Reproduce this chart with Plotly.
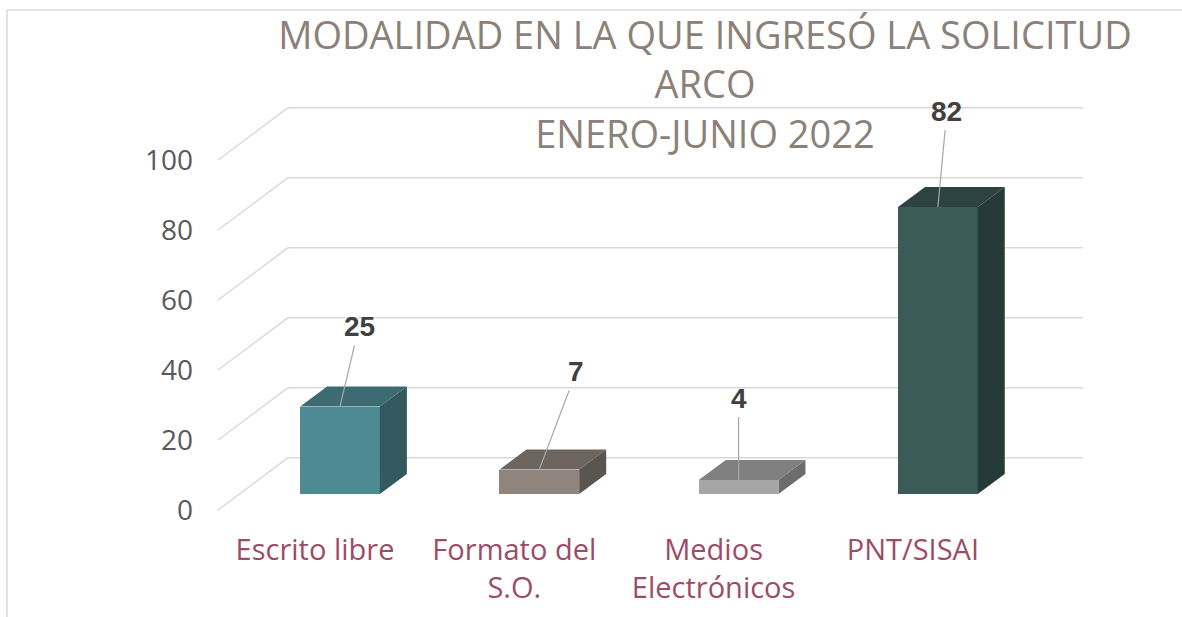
import plotly.graph_objects as go

# ---- data ----
categories = ["Escrito libre", "Formato del<br>S.O.", "Medios<br>Electrónicos", "PNT/SISAI"]
values = [25, 7, 4, 82]
y_ticks = [0, 20, 40, 60, 80, 100]
y_tick_labels = ["0", "20", "40", "60", "80", "100"]
title_lines = ["MODALIDAD EN LA QUE INGRESÓ LA SOLICITUD", "ARCO", "ENERO-JUNIO 2022"]

# ---- styles ----
front_colors = ["#4e8a93", "#8f857d", "#a6a6a6", "#3b5b59"]
top_colors = ["#3c6b71", "#6e655f", "#808080", "#2c4342"]
side_colors = ["#33585e", "#5b554f", "#6c6c6c", "#263a38"]
label_offsets = [(19, -80), (37, -98), (0, -82), (9, -96)]  # pixel offsets of value labels

W, H = 1182, 617
L, R, T, B = 200, 1100, 60, 530          # plot area in pixels
PX_CAT = 199.3                            # pixels per category
PX_UNIT = 3.5                             # pixels per value unit
X0_PX, Y0_PX = 340, 494                   # pixel of category 0, value 0 (bar front plane)

x0 = -(X0_PX - L) / PX_CAT
x1 = x0 + (R - L) / PX_CAT
y0 = -(B - Y0_PX) / PX_UNIT
y1 = y0 + (B - T) / PX_UNIT

def dxu(px):
    return px / PX_CAT

def dyu(px):
    return px / PX_UNIT

bar_w = 0.4
hw = bar_w / 2
depth_dx, depth_dy = dxu(27), dyu(20)     # bar depth
front_x = dxu(218 - X0_PX)                # wall front-left x
back_x = dxu(288 - X0_PX)                 # wall back-left x
right_x = dxu(1083 - X0_PX)               # wall right end
front_dy = dyu(Y0_PX - 510)               # front plane offset
back_dy = dyu(Y0_PX - 457.7)              # back plane offset

fig = go.Figure()

xs = list(range(len(categories)))
fig.add_trace(go.Bar(
    x=xs, y=values, width=bar_w,
    marker=dict(color=front_colors, line=dict(width=0)),
    hoverinfo="skip", showlegend=False,
))

for i, v in enumerate(values):
    # top face
    fig.add_trace(go.Scatter(
        x=[i - hw, i + hw, i + hw + depth_dx, i - hw + depth_dx, i - hw],
        y=[v, v, v + depth_dy, v + depth_dy, v],
        fill="toself", fillcolor=top_colors[i], mode="lines",
        line=dict(width=0, color=top_colors[i]), hoverinfo="skip", showlegend=False,
    ))
    # side face
    fig.add_trace(go.Scatter(
        x=[i + hw, i + hw + depth_dx, i + hw + depth_dx, i + hw, i + hw],
        y=[0, depth_dy, v + depth_dy, v, 0],
        fill="toself", fillcolor=side_colors[i], mode="lines",
        line=dict(width=0, color=side_colors[i]), hoverinfo="skip", showlegend=False,
    ))

shapes = []
grid_color = "#d9d9d9"
for t in y_ticks:
    shapes.append(dict(type="line", xref="x", yref="y", layer="below",
                       x0=front_x, y0=t + front_dy, x1=back_x, y1=t + back_dy,
                       line=dict(color=grid_color, width=1.5)))
    shapes.append(dict(type="line", xref="x", yref="y", layer="below",
                       x0=back_x, y0=t + back_dy, x1=right_x, y1=t + back_dy,
                       line=dict(color=grid_color, width=1.5)))

# outer chart border (left and top edges visible)
def px_to_paper_x(px):
    return (px - L) / (R - L)

def px_to_paper_y(py):
    return (B - py) / (B - T)

shapes.append(dict(type="line", xref="paper", yref="paper",
                   x0=px_to_paper_x(7), y0=px_to_paper_y(10), x1=px_to_paper_x(1190), y1=px_to_paper_y(10),
                   line=dict(color="#d9d9d9", width=1.5)))
shapes.append(dict(type="line", xref="paper", yref="paper",
                   x0=px_to_paper_x(7), y0=px_to_paper_y(10), x1=px_to_paper_x(7), y1=px_to_paper_y(625),
                   line=dict(color="#d9d9d9", width=1.5)))

annotations = []
for i, v in enumerate(values):
    ax, ay = label_offsets[i]
    annotations.append(dict(
        x=i, y=v, xref="x", yref="y", text=f"<b>{v}</b>",
        showarrow=True, arrowhead=0, arrowwidth=1.2, arrowcolor="#a6a6a6",
        ax=ax, ay=ay, standoff=0, startstandoff=2,
        font=dict(family="Liberation Sans, Arial", size=28, color="#404040"),
    ))

fig.update_layout(
    width=W, height=H,
    margin=dict(l=L, r=W - R, t=T, b=H - B, autoexpand=False),
    paper_bgcolor="white", plot_bgcolor="white",
    title=dict(text="<br>".join(title_lines), x=705 / W, xanchor="center",
               y=1 - 49 / H, yanchor="middle", xref="container", yref="container",
               font=dict(family="Open Sans", size=38, color="#8b8178")),
    xaxis=dict(range=[x0, x1], tickvals=xs, ticktext=categories, showgrid=False,
               zeroline=False, showline=False, ticks="", ticklabelshift=-25,
               ticklabelstandoff=0, automargin=False, fixedrange=True,
               tickfont=dict(family="Open Sans", size=29, color="#9b4d68")),
    yaxis=dict(range=[y0, y1], tickvals=y_ticks, ticktext=y_tick_labels, showgrid=False,
               zeroline=False, showline=False, ticks="", ticklabelshift=16,
               ticklabelstandoff=6, automargin=False, fixedrange=True,
               tickfont=dict(family="Open Sans", size=28, color="#595959")),
    shapes=shapes, annotations=annotations, bargap=0,
)

fig.write_html("out.html", config={"displayModeBar": False},
               post_script="document.body.style.margin='0px';")
